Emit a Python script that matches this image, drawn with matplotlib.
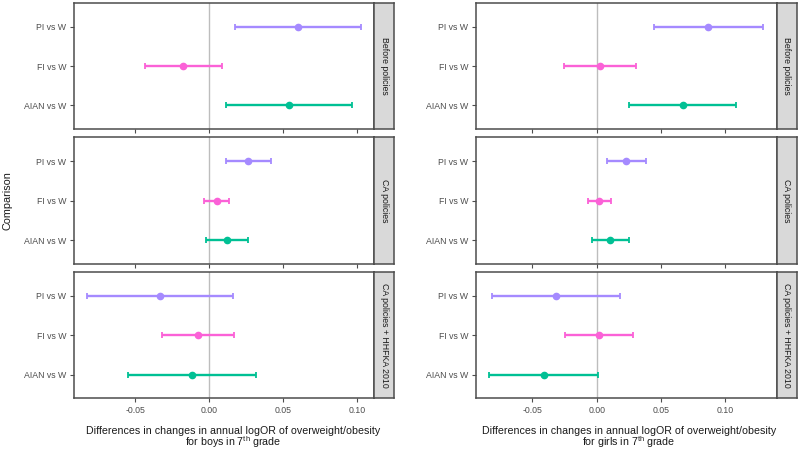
import matplotlib
matplotlib.use("Agg")
from matplotlib import pyplot as plt

plt.rcParams['font.family'] = ['Liberation Sans', 'DejaVu Sans']
plt.rcParams['mathtext.fontset'] = 'custom'
plt.rcParams['mathtext.rm'] = 'Liberation Sans'

comparisons = ["PI vs W", "FI vs W", "AIAN vs W"]
facets = ["Before policies", "CA policies", "CA policies + HHFKA 2010"]
colours = ["#A58AFF", "#FB61D7", "#00C094"]

# estimates / lower / upper, per facet, order PI, FI, AIAN
boys_est = [[0.0601, -0.0176, 0.0536],
            [0.0264, 0.0050, 0.0120],
            [-0.0333, -0.0076, -0.0117]]
boys_lo = [[0.0176, -0.0432, 0.0115],
           [0.0113, -0.0034, -0.0024],
           [-0.0824, -0.0320, -0.0547]]
boys_hi = [[0.1025, 0.0086, 0.0962],
           [0.0417, 0.0131, 0.0264],
           [0.0162, 0.0167, 0.0313]]

girls_est = [[0.0870, 0.0026, 0.0670],
             [0.0228, 0.0021, 0.0106],
             [-0.0320, 0.0021, -0.0413]]
girls_lo = [[0.0444, -0.0252, 0.0254],
            [0.0078, -0.0070, -0.0034],
            [-0.0818, -0.0245, -0.0837]]
girls_hi = [[0.1299, 0.0306, 0.1086],
            [0.0382, 0.0109, 0.0249],
            [0.0182, 0.0283, 0.0013]]

xticks = [-0.05, 0.0, 0.05, 0.10]
xticklabels = ["-0.05", "0.00", "0.05", "0.10"]

W, H = 800, 453
fig = plt.figure(figsize=(8, 4.53), dpi=100)

def px_axes(x0, y0, x1, y1):
    return fig.add_axes([x0 / W, (H - y1) / H, (x1 - x0) / W, (y1 - y0) / H])

panels = [
    dict(est=boys_est, lo=boys_lo, hi=boys_hi, x0=73.7, x1=374.3, xs=394.3,
         xlim=(-0.0916, 0.1115), who="boys", cx=233),
    dict(est=girls_est, lo=girls_lo, hi=girls_hi, x0=476, x1=776.7, xs=797,
         xlim=(-0.094, 0.1403), who="girls", cx=629),
]
facet_y = [(3, 129), (137.3, 264), (272.3, 398.3)]
edge = "#4D4D4D"

for p in panels:
    for fi, (y0, y1) in enumerate(facet_y):
        ax = px_axes(p['x0'], y0, p['x1'], y1)
        ax.axvline(0, color="#BDBDBD", lw=1, zorder=1)
        for ci in range(3):
            yy = 3 - ci
            e = p['est'][fi][ci]
            lo = p['lo'][fi][ci]
            hi = p['hi'][fi][ci]
            ax.errorbar([e], [yy], xerr=[[e - lo], [hi - e]], fmt='o',
                        color=colours[ci], ms=4.5, elinewidth=1.7,
                        capsize=2.2, capthick=1.3, zorder=3)
        ax.set_xlim(*p['xlim'])
        ax.set_ylim(0.4, 3.6)
        ax.set_yticks([3, 2, 1])
        ax.set_yticklabels(comparisons)
        ax.set_xticks(xticks)
        if fi == 2:
            ax.set_xticklabels(xticklabels)
        else:
            ax.set_xticklabels([])
        ax.tick_params(length=3, width=0.8, color=edge, labelcolor="#4D4D4D",
                       labelsize=6.3, pad=2.5)
        for s in ax.spines.values():
            s.set_color(edge)
            s.set_linewidth(1.1)

        sx = px_axes(p['x1'], y0, p['xs'], y1)
        sx.set_facecolor("#D9D9D9")
        sx.set_xticks([])
        sx.set_yticks([])
        for s in sx.spines.values():
            s.set_color(edge)
            s.set_linewidth(1.1)
        sx.text(0.5, 0.5, facets[fi], rotation=-90, ha='center', va='center',
                fontsize=6.3, color="#1A1A1A", transform=sx.transAxes)

    fig.text(p['cx'] / W, 1 - 431 / H,
             "Differences in changes in annual logOR of overweight/obesity",
             ha='center', va='center', fontsize=7.7, color="#1A1A1A")
    fig.text(p['cx'] / W, 1 - 442.5 / H,
             "for " + p['who'] + r" in 7$^{\mathrm{th}}$ grade",
             ha='center', va='center', fontsize=7.7, color="#1A1A1A")

fig.text(8 / W, 1 - 201 / H, "Comparison", rotation=90, ha='center',
         va='center', fontsize=7.8, color="#1A1A1A")

fig.savefig("out.png", dpi=100)
